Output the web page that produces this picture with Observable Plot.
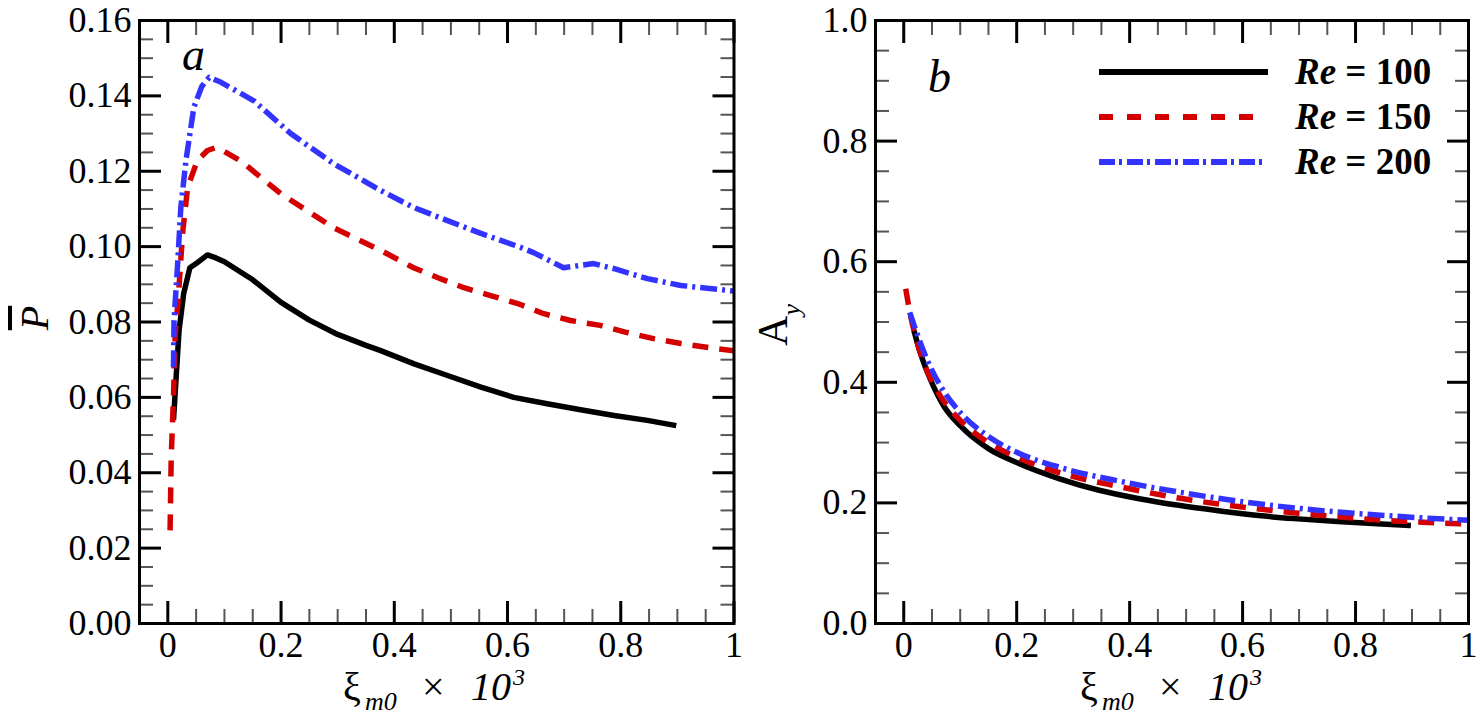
<!DOCTYPE html>
<html>
<head>
<meta charset="utf-8">
<script src="https://cdn.jsdelivr.net/npm/d3@7"></script>
<script src="https://cdn.jsdelivr.net/npm/@observablehq/plot@0.6"></script>
<style>
  body { margin: 0; background: #fff; }
  #wrap { position: relative; width: 1483px; height: 721px; overflow: hidden; }
  #wrap > svg { position: absolute; top: 0; }
  #wrap text { font-family: 'Liberation Serif', serif; }
</style>
</head>
<body>
<div id="wrap"></div>
<script>
// ---------- series meta ----------
const seriesNames = ["Re = 100", "Re = 150", "Re = 200"];
const seriesValues = ["100", "150", "200"];
const seriesColors = ["#000000", "#d40000", "#3333ff"];
const seriesDash = [null, "16,11", "17,5,3,5"];

// ---------- panel a : mean power P vs xi_m0 x 10^3 ----------
const xiA100 = [0.010,0.015,0.020,0.028,0.039,0.050,0.070,0.085,0.100,0.150,0.200,0.250,0.300,0.350,0.376,0.435,0.494,0.553,0.611,0.670,0.729,0.788,0.847,0.898];
const pA100  = [0.0540,0.0660,0.0780,0.0875,0.0944,0.0955,0.0978,0.0970,0.0960,0.0912,0.0852,0.0805,0.0767,0.0738,0.0724,0.0689,0.0658,0.0627,0.0600,0.0583,0.0567,0.0552,0.0539,0.0525];

const xiA150 = [0.004,0.006,0.010,0.013,0.019,0.026,0.035,0.052,0.070,0.085,0.100,0.130,0.200,0.293,0.376,0.434,0.476,0.523,0.570,0.618,0.664,0.711,0.764,0.811,0.858,0.906,0.964,1.000];
const pA150  = [0.0247,0.0440,0.0600,0.0760,0.0875,0.1034,0.1157,0.1228,0.1255,0.1263,0.1252,0.1226,0.1140,0.1050,0.0990,0.0944,0.0918,0.0891,0.0870,0.0849,0.0822,0.0804,0.0791,0.0772,0.0756,0.0743,0.0730,0.0724];

const xiA200 = [0.010,0.011,0.017,0.023,0.032,0.046,0.060,0.073,0.094,0.152,0.217,0.293,0.376,0.434,0.494,0.553,0.623,0.646,0.699,0.752,0.787,0.847,0.906,0.994,1.000];
const pA200  = [0.0680,0.0804,0.0945,0.1104,0.1228,0.1370,0.1425,0.1449,0.1436,0.1387,0.1300,0.1220,0.1149,0.1104,0.1069,0.1035,0.0998,0.0984,0.0944,0.0955,0.0942,0.0915,0.0897,0.0883,0.0882];

// ---------- panel b : A_y vs xi_m0 x 10^3 ----------
const xiB100 = [0.018,0.030,0.048,0.072,0.100,0.150,0.200,0.276,0.346,0.417,0.487,0.557,0.628,0.698,0.768,0.838,0.898];
const ayB100 = [0.486,0.447,0.403,0.359,0.328,0.290,0.267,0.240,0.221,0.207,0.196,0.187,0.179,0.1735,0.169,0.1655,0.1625];

const xiB150 = [0.0035,0.0126,0.023,0.041,0.065,0.100,0.150,0.200,0.276,0.382,0.487,0.592,0.698,0.838,0.993];
const ayB150 = [0.555,0.508,0.469,0.420,0.377,0.337,0.300,0.276,0.250,0.227,0.208,0.194,0.183,0.172,0.165];

const xiB200 = [0.0105,0.023,0.041,0.065,0.100,0.150,0.200,0.276,0.382,0.487,0.592,0.698,0.838,1.000];
const ayB200 = [0.516,0.482,0.438,0.394,0.350,0.310,0.284,0.259,0.236,0.218,0.203,0.191,0.180,0.171];

// ---------- ticks ----------
const xMajor = [0, 0.2, 0.4, 0.6, 0.8, 1];
const xTickLabels = ["0", "0.2", "0.4", "0.6", "0.8", "1"];
const xMinor = [0.05,0.1,0.15,0.25,0.3,0.35,0.45,0.5,0.55,0.65,0.7,0.75,0.85,0.9,0.95];

const yMajorA = [0, 0.02, 0.04, 0.06, 0.08, 0.10, 0.12, 0.14, 0.16];
const yTickLabelsA = ["0.00","0.02","0.04","0.06","0.08","0.10","0.12","0.14","0.16"];
const yMinorA = d3.range(0, 33).filter(i => i % 4 !== 0).map(i => i * 0.005);

const yMajorB = [0, 0.2, 0.4, 0.6, 0.8, 1.0];
const yTickLabelsB = ["0.0","0.2","0.4","0.6","0.8","1.0"];
const yMinorB = d3.range(0, 21).filter(i => i % 4 !== 0).map(i => i * 0.05);

// ---------- build tables ----------
function table(xs, ys, name) { return xs.map((x, i) => ({x, y: ys[i], s: name})); }
const rowsA = [
  ...table(xiA100, pA100, seriesNames[0]),
  ...table(xiA150, pA150, seriesNames[1]),
  ...table(xiA200, pA200, seriesNames[2])
];
const rowsB = [
  ...table(xiB100, ayB100, seriesNames[0]),
  ...table(xiB150, ayB150, seriesNames[1]),
  ...table(xiB200, ayB200, seriesNames[2])
];

const fam = '"Liberation Serif", serif';

function makePanel({width, marginLeft, marginRight, yDomain, yMajor, yLabels, yMinor, rows, curve}) {
  const xFmt = d => xTickLabels[xMajor.indexOf(d)];
  const yFmt = d => yLabels[yMajor.indexOf(d)];
  const blank = () => "";
  const minorStyle = {stroke: "#555", strokeWidth: 2, tickFormat: blank, label: null};
  const majorStyle = {stroke: "#000", strokeWidth: 3, tickFormat: blank, label: null};
  return Plot.plot({
    width, height: 721,
    marginLeft, marginRight, marginTop: 20, marginBottom: 98,
    x: {domain: [-0.05, 1]},
    y: {domain: yDomain},
    style: {background: "transparent", fontFamily: fam, fontSize: "36px", color: "#000", overflow: "visible"},
    marks: [
      ...seriesNames.map((name, i) => Plot.line(rows.filter(r => r.s === name), {
        x: "x", y: "y", stroke: seriesColors[i], strokeWidth: 5.5,
        strokeDasharray: seriesDash[i], strokeLinecap: "butt", strokeLinejoin: "round",
        curve, clip: true
      })),
      Plot.axisX(xMinor, {anchor: "bottom", tickSize: -14, ...minorStyle}),
      Plot.axisX(xMinor, {anchor: "top", tickSize: -14, ...minorStyle}),
      Plot.axisX(xMajor, {anchor: "bottom", tickSize: -22, ...majorStyle}),
      Plot.axisX(xMajor, {anchor: "top", tickSize: -22, ...majorStyle}),
      Plot.axisX(xMajor, {anchor: "bottom", tickSize: 0, tickPadding: 8, tickFormat: xFmt, fontSize: 36, label: null}),
      Plot.axisY(yMinor, {anchor: "left", tickSize: -14, ...minorStyle}),
      Plot.axisY(yMinor, {anchor: "right", tickSize: -14, ...minorStyle}),
      Plot.axisY(yMajor, {anchor: "left", tickSize: -22, ...majorStyle}),
      Plot.axisY(yMajor, {anchor: "right", tickSize: -22, ...majorStyle}),
      Plot.axisY(yMajor, {anchor: "left", tickSize: 0, tickPadding: 8, tickFormat: yFmt, fontSize: 36, label: null}),
      Plot.frame({stroke: "#000", strokeWidth: 3})
    ]
  });
}

const wrap = document.getElementById("wrap");

const plotA = makePanel({
  width: 750, marginLeft: 139, marginRight: 16.5,
  yDomain: [0, 0.16], yMajor: yMajorA, yLabels: yTickLabelsA, yMinor: yMinorA,
  rows: rowsA, curve: "linear"
});
plotA.style.left = "0px";
wrap.appendChild(plotA);

const plotB = makePanel({
  width: 743, marginLeft: 135, marginRight: 15,
  yDomain: [0, 1], yMajor: yMajorB, yLabels: yTickLabelsB, yMinor: yMinorB,
  rows: rowsB, curve: "monotone-x"
});
plotB.style.left = "740px";
wrap.appendChild(plotB);

// ---------- overlay: rich-text labels and legend ----------
const ov = d3.select(wrap).append("svg")
  .attr("width", 1483).attr("height", 721)
  .style("left", "0px").style("pointer-events", "none")
  .attr("font-family", fam);

function xLabel(x0) {
  const t = ov.append("text").attr("x", x0).attr("y", 700).attr("font-size", 40).attr("fill", "#000");
  t.append("tspan").text("ξ");
  t.append("tspan").attr("x", x0 + 22).attr("dy", 10).attr("font-size", 26).attr("font-style", "italic").text("m0");
  t.append("tspan").attr("x", x0 + 79).attr("dy", -10).text("×");
  t.append("tspan").attr("x", x0 + 128).attr("font-style", "italic").text("10");
  t.append("tspan").attr("dx", 2).attr("dy", -15).attr("font-size", 24).attr("font-style", "italic").text("3");
}
xLabel(343);
xLabel(1080);

// y label a: P with overbar
ov.append("text")
  .attr("transform", "translate(48,318) rotate(-90)")
  .attr("text-anchor", "middle").attr("font-size", 40).attr("font-style", "italic")
  .style("text-decoration", "overline")
  .text("P");

// y label b: A_y
const ay = ov.append("text")
  .attr("transform", "translate(787,325) rotate(-90)")
  .attr("text-anchor", "middle").attr("font-size", 42);
ay.append("tspan").text("A");
ay.append("tspan").attr("dy", 13).attr("font-size", 26).attr("font-style", "italic").text("y");

// panel letters
ov.append("text").attr("x", 182).attr("y", 70).attr("font-size", 46).attr("font-style", "italic").text("a");
ov.append("text").attr("x", 928).attr("y", 92).attr("font-size", 46).attr("font-style", "italic").text("b");

// legend
const legendY = [72, 117, 162];
const legendEnd = [1268, 1256, 1263];
const legendDash = [null, "14,14", "16,4,3,5"];
seriesNames.forEach((name, i) => {
  ov.append("line")
    .attr("x1", 1099).attr("x2", legendEnd[i])
    .attr("y1", legendY[i]).attr("y2", legendY[i])
    .attr("stroke", seriesColors[i]).attr("stroke-width", 6)
    .attr("stroke-dasharray", legendDash[i]);
  const t = ov.append("text").attr("x", 1295).attr("y", legendY[i] + 11.5)
    .attr("font-size", 37).attr("font-weight", "bold").attr("fill", "#000");
  t.append("tspan").attr("font-style", "italic").text("Re");
  t.append("tspan").text(" = " + seriesValues[i]);
});
</script>
</body>
</html>
